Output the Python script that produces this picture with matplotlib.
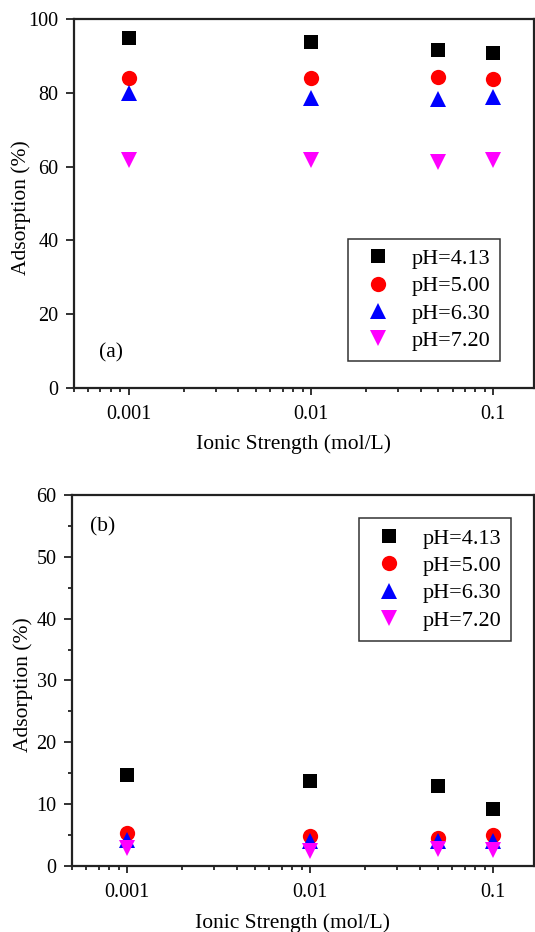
import matplotlib
matplotlib.use("Agg")
import matplotlib.pyplot as plt
from matplotlib.ticker import LogLocator, NullFormatter, FixedLocator, MultipleLocator

plt.rcParams['font.family'] = ['Liberation Serif', 'DejaVu Serif']

# ionic strength (mol/L)
ionic = [0.001, 0.01, 0.05, 0.1]
labels = ["pH=4.13", "pH=5.00", "pH=6.30", "pH=7.20"]

# panel (a) adsorption (%)
a_413 = [94.8, 93.8, 91.7, 90.9]
a_500 = [84.1, 83.9, 84.3, 83.7]
a_630 = [80.0, 78.6, 78.3, 78.9]
a_720 = [61.8, 61.7, 61.2, 61.7]

# panel (b) adsorption (%)
b_413 = [14.7, 13.8, 13.0, 9.3]
b_500 = [5.3, 4.85, 4.5, 5.0]
b_630 = [4.2, 4.1, 4.1, 4.1]
b_720 = [2.9, 2.5, 2.8, 2.6]

styles = [("s", "black", 9.5), ("o", "red", 11), ("^", "blue", 11), ("v", "magenta", 11)]

fig = plt.figure(figsize=(5.35, 9.32), dpi=100)
ax1 = fig.add_axes([0.138, 0.5837, 0.8605, 0.3959])
ax2 = fig.add_axes([0.1346, 0.0708, 0.8639, 0.3981])


def draw(ax, series, ylim, ymajor, yminor, tag, tagpos, legpos, ylab_x, xlab_y):
    for ys, lab, (m, c, ms) in zip(series, labels, styles):
        ax.plot(ionic, ys, linestyle="none", marker=m, color=c, markersize=ms,
                markeredgewidth=0, label=lab)
    ax.set_xscale("log")
    ax.set_xlim(0.0005, 0.168)
    ax.set_ylim(*ylim)
    ax.set_xticks([0.001, 0.01, 0.1])
    ax.set_xticklabels(["0.001", "0.01", "0.1"])
    ax.xaxis.set_minor_locator(LogLocator(base=10, subs=range(2, 10)))
    ax.xaxis.set_minor_formatter(NullFormatter())
    ax.yaxis.set_major_locator(MultipleLocator(ymajor))
    if yminor:
        ax.yaxis.set_minor_locator(MultipleLocator(yminor))
    else:
        ax.yaxis.set_minor_locator(FixedLocator([]))
    ax.tick_params(which="both", direction="out", top=False, right=False,
                   labelsize=14.5, width=1.3, color="#222222")
    ax.tick_params(axis="x", which="major", length=5, pad=7)
    ax.tick_params(axis="y", which="major", length=6, pad=5)
    ax.tick_params(which="minor", length=3)
    for sp in ax.spines.values():
        sp.set_linewidth(1.6)
        sp.set_color("#222222")
    ax.set_xlabel("Ionic Strength (mol/L)", fontsize=15.5)
    ax.xaxis.set_label_coords(0.477, xlab_y)
    ax.set_ylabel("Adsorption (%)", fontsize=15.5)
    ax.yaxis.set_label_coords(ylab_x, 0.49)
    ax.text(tagpos[0], tagpos[1], tag, transform=ax.transAxes, fontsize=15.5,
            va="center", ha="left")
    leg = ax.legend(loc="upper left", bbox_to_anchor=legpos, fontsize=16,
                    frameon=True, fancybox=False, edgecolor="black",
                    handletextpad=0.6, borderpad=0.45, labelspacing=0.3,
                    handlelength=1.8, borderaxespad=0)
    leg.get_frame().set_linewidth(1.1)


draw(ax1, [a_413, a_500, a_630, a_720], (0, 100), 20, None, "(a)",
     (0.054, 0.095), (0.596, 0.405), -0.092, -0.125)
draw(ax2, [b_413, b_500, b_630, b_720], (0, 60), 10, 5, "(b)",
     (0.04, 0.915), (0.621, 0.937), -0.085, -0.128)

fig.savefig("out.png", dpi=100)
